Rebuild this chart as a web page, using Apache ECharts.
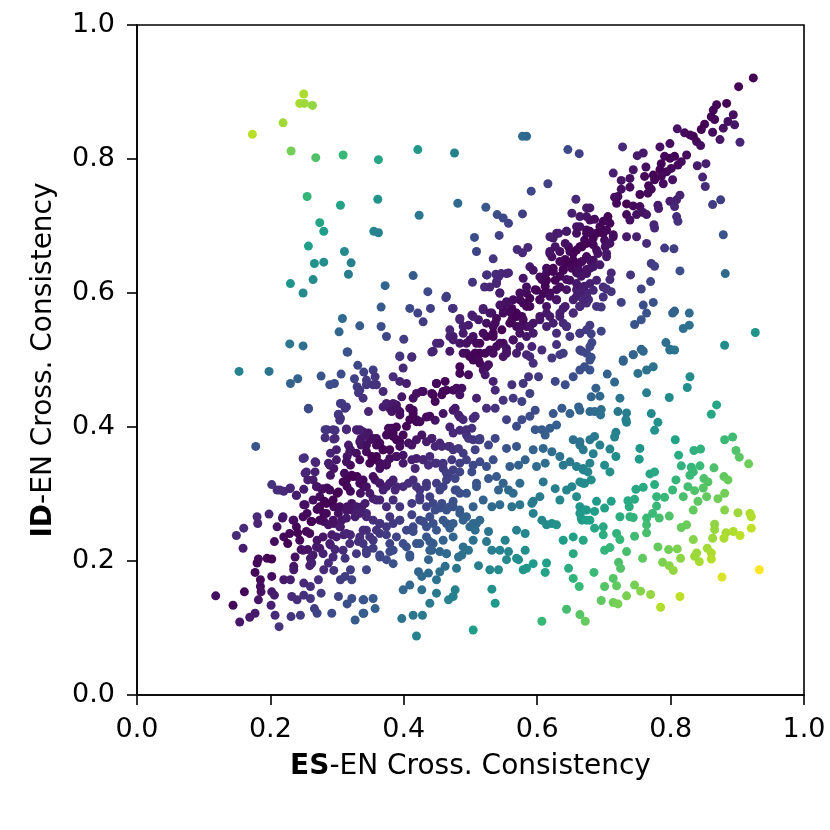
<!DOCTYPE html>
<html>
<head>
<meta charset="utf-8">
<script src="https://cdn.jsdelivr.net/npm/echarts@6/dist/echarts.min.js"></script>
<style>
  html, body { margin: 0; padding: 0; background: #fff; }
  #chart { width: 830px; height: 830px; }
</style>
</head>
<body>
<div id="chart"></div>
<script>
// [ES-EN, ID-EN] pairs
var upperLeft = [
  [.250,.897],[.244,.883],[.251,.883],[.263,.880],[.219,.854],[.173,.837],[.231,.812],[.268,.802],[.309,.806],
  [.255,.744],[.305,.731],[.274,.705],[.280,.692],[.257,.670],[.311,.662],[.266,.644],[.280,.646],[.321,.645],
  [.317,.628],[.230,.614],[.264,.620],[.249,.600],[.308,.562],[.334,.551],[.303,.542],[.229,.524],[.249,.521],[.315,.512]
];
var upperCenter = [
  [.578,.834],[.584,.834],[.646,.814],[.663,.808],[.362,.799],[.421,.814],[.476,.809],[.361,.740],[.423,.716],
  [.481,.734],[.355,.692],[.362,.690],[.591,.752],[.616,.763],[.523,.728],[.540,.717],[.549,.712],[.557,.704],
  [.578,.718],[.658,.740],[.506,.683],[.543,.686],[.509,.662],[.534,.651],[.570,.665],[.578,.660],[.586,.668],
  [.414,.626],[.372,.611],[.436,.602],[.366,.579],[.409,.577],[.421,.570],[.429,.557],[.440,.577],[.366,.550],
  [.374,.535],[.400,.531],[.394,.506],[.412,.505],[.463,.593],[.473,.577],[.503,.616],[.521,.609],[.525,.627],
  [.538,.628],[.546,.629],[.557,.630]
];
var centralBand = [
  [.652,.719],[.664,.714],[.674,.727],[.679,.709],[.659,.699],[.674,.689],[.644,.692],[.629,.689],[.624,.682],
  [.634,.662],[.647,.669],[.654,.659],[.664,.669],[.674,.654],[.664,.645],[.654,.640],[.642,.650],[.639,.635],
  [.624,.637],[.619,.659],[.634,.625],[.644,.620],[.659,.630],[.674,.630],[.679,.637],
  [.614,.630],[.607,.620],[.612,.610],[.619,.600],[.629,.605],[.644,.605],[.659,.605],[.674,.600],
  [.597,.605],[.584,.600],[.589,.592],[.604,.590],[.614,.580],[.629,.590],[.639,.577],[.654,.570],[.664,.580],
  [.677,.590],[.659,.595],
  [.539,.617],[.544,.600],[.554,.587],[.562,.577],[.569,.570],[.577,.565],[.584,.580],[.574,.590],[.564,.565],[.549,.577],
  [.519,.575],[.532,.570],[.539,.562],[.524,.555],[.534,.550],[.547,.545],[.559,.555],[.569,.550],[.584,.550],
  [.594,.555],[.604,.565],[.614,.570],
  [.624,.555],[.634,.565],[.644,.550],[.629,.540],[.649,.535],[.664,.540],[.674,.545],
  [.484,.562],[.502,.567],[.512,.560],[.497,.552],[.489,.540],[.474,.535],[.484,.525],[.499,.530],[.514,.525],
  [.507,.510],[.494,.510],[.524,.535],[.534,.535],[.539,.520],[.549,.525],[.564,.530],[.574,.520],[.592,.520],
  [.607,.515],[.629,.523],[.639,.510],[.664,.515],[.679,.520],
  [.522,.510],[.532,.513],[.554,.510],[.569,.510],[.584,.508],
  [.449,.525],[.444,.513],[.469,.513],[.469,.535],
  [.619,.684],[.632,.689],[.644,.692],[.659,.689],[.674,.694],[.627,.669],[.642,.674],[.649,.662],[.659,.664],
  [.667,.669],[.674,.674],[.684,.682],[.699,.689],[.714,.684],[.702,.669],[.689,.664],[.704,.654],[.684,.649],
  [.674,.654],[.667,.647],[.654,.649],[.644,.644],[.634,.647],[.622,.654],[.619,.662],[.614,.637],[.624,.632],
  [.639,.634],[.652,.637],[.662,.634],[.674,.629],[.684,.639],[.694,.642],[.604,.624],[.614,.619],[.627,.619],
  [.634,.609],[.649,.619],[.659,.614],[.669,.609],[.679,.614],[.689,.619],[.589,.639],[.594,.634],[.579,.622],
  [.584,.609],[.599,.604],[.609,.599],[.619,.595],[.629,.590],[.642,.580],[.654,.590],[.664,.595],[.674,.597],
  [.684,.604],[.699,.609],[.574,.600],[.564,.590],[.579,.585],[.589,.580],[.604,.590],[.554,.585],[.544,.600],
  [.539,.614],[.542,.624],[.524,.627],[.554,.629],[.529,.609],[.544,.582],[.559,.572],[.569,.565],[.579,.560],
  [.589,.550],[.574,.550],[.562,.560],[.549,.570],[.519,.577],[.529,.570],[.537,.555],[.534,.540],[.519,.540],
  [.504,.535],[.494,.525],[.509,.525],[.514,.510],[.529,.515],[.544,.525],[.554,.517],[.564,.530],[.574,.540],
  [.584,.535],[.594,.540],[.604,.560],[.614,.550],[.619,.565],[.634,.570],[.639,.555],[.644,.550],[.654,.570],
  [.664,.580],[.674,.585],[.484,.560],[.469,.545],[.474,.530],[.489,.550],[.504,.565],[.489,.510],[.484,.490],
  [.464,.595],[.474,.577],[.454,.525],[.524,.490],[.514,.495],[.504,.500]
];
var upperRight = [
  [.924,.921],[.902,.908],[.869,.881],[.884,.883],[.864,.873],[.861,.863],[.866,.859],[.894,.866],[.886,.856],
  [.896,.851],[.879,.846],[.863,.840],[.874,.829],[.904,.825],
  [.851,.852],[.846,.844],[.834,.834],[.839,.826],[.845,.820],[.829,.836],[.821,.839],[.810,.845],[.728,.818],
  [.784,.818],[.799,.823],[.791,.804],[.799,.801],[.806,.804],[.824,.806],[.816,.796],[.811,.791],[.801,.786],
  [.786,.793],[.784,.784],[.794,.781],[.750,.805],[.759,.809],[.763,.788],
  [.840,.790],[.853,.793],[.848,.773],[.852,.759],
  [.714,.779],[.744,.784],[.726,.768],[.739,.771],[.761,.774],[.774,.776],[.776,.769],[.786,.774],[.789,.763],[.803,.769],
  [.767,.760],[.771,.755],[.766,.749],[.754,.747],[.726,.755],[.721,.744],[.716,.743],[.739,.758],
  [.719,.734],[.734,.733],[.744,.730],[.754,.729],[.759,.720],[.749,.717],[.734,.717],[.739,.709],[.764,.717],
  [.781,.731],[.782,.726],[.799,.737],[.809,.739],[.814,.746],[.806,.729],[.811,.707],[.809,.714],
  [.863,.732],[.875,.739],
  [.679,.727],[.674,.714],[.686,.710],[.699,.707],[.709,.704],[.706,.714],[.694,.699],[.704,.694],[.714,.687],
  [.701,.679],[.709,.674],[.689,.689],[.679,.692],[.664,.699],[.671,.679],[.684,.672],[.691,.659],[.704,.659],
  [.679,.649],[.666,.669],
  [.734,.684],[.749,.684],[.764,.674],[.775,.702],[.776,.697],[.791,.667],[.805,.666],
  [.771,.644],[.776,.640],[.814,.633],[.740,.627],[.770,.617],[.756,.606],
  [.711,.630],[.709,.620],[.704,.606],[.711,.602],[.699,.594],[.726,.586],[.689,.580],[.696,.579],
  [.674,.635],[.666,.625],[.671,.610],[.664,.600],[.669,.590],[.664,.580],
  [.759,.582],[.774,.586],[.764,.570],[.756,.560],[.746,.553],
  [.803,.570],[.806,.573],[.828,.570],[.819,.547],[.828,.552],
  [.879,.687],[.882,.629],[.927,.541],[.881,.522],
  [.793,.526],[.799,.516],[.806,.515],[.756,.516],[.744,.508],[.729,.500],
  [.679,.552],[.681,.539],[.682,.526],[.696,.543],[.664,.540],[.674,.510],[.681,.504]
];
var lowerLeft = [
  [.153,.483],[.198,.483],[.230,.465],[.241,.472],[.276,.476],[.306,.479],[.296,.465],[.316,.512],[.331,.492],
  [.340,.482],[.326,.472],[.332,.451],[.330,.460],[.257,.427],[.305,.435],[.314,.430],[.302,.419],[.305,.413],
  [.178,.371],[.285,.396],[.297,.395],[.314,.397],[.282,.384],[.295,.382],[.330,.395],[.336,.383],[.336,.373],
  [.317,.373],[.320,.366],[.290,.361],[.299,.366],[.251,.354],[.268,.347],[.289,.343],[.295,.338],[.315,.356],
  [.320,.343],[.252,.331],[.256,.321],[.267,.333],[.290,.328],[.311,.331],[.322,.328],[.330,.326],[.309,.318],
  [.315,.311],[.320,.304],[.202,.314],[.210,.306],[.220,.304],[.230,.309],[.239,.298],[.250,.307],[.270,.311],
  [.277,.307],[.285,.309],[.274,.296],[.281,.289],[.300,.301],[.340,.311],[.335,.301],[.250,.284],[.255,.271],
  [.270,.277],[.280,.271],[.277,.261],[.295,.281],[.302,.271],[.307,.261],[.315,.281],[.322,.276],[.327,.266],
  [.337,.281],[.198,.270],[.180,.266],[.181,.256],[.218,.264],[.210,.251],[.235,.261],[.239,.251],[.241,.242],
  [.261,.259],[.254,.244],[.280,.259],[.287,.254],[.295,.256],[.305,.251],[.160,.249],[.149,.238],[.159,.219],
  [.206,.229],[.220,.236],[.226,.226],[.246,.217],[.256,.217],[.270,.231],[.274,.219],[.292,.239],[.290,.224],
  [.297,.217],[.310,.239],[.320,.239],[.332,.229],[.340,.246],[.182,.203],[.180,.197],[.195,.204],[.202,.203],
  [.237,.206],[.235,.192],[.260,.204],[.262,.197],[.259,.193],[.280,.187],[.287,.197],[.295,.186],[.312,.204],
  [.320,.187],[.305,.172],[.312,.177],[.322,.172],[.344,.187],[.177,.183],[.185,.172],[.202,.177],[.220,.172],
  [.230,.172],[.235,.187],[.250,.167],[.260,.162],[.272,.172],[.276,.152],[.118,.148],[.161,.154],[.144,.134],
  [.185,.162],[.186,.154],[.182,.142],[.202,.154],[.206,.149],[.201,.134],[.207,.119],[.232,.147],[.240,.142],
  [.250,.149],[.260,.144],[.302,.147],[.315,.136],[.322,.144],[.340,.142],[.266,.129],[.270,.122],[.292,.122],
  [.327,.112],[.340,.122],[.177,.122],[.169,.116],[.154,.109],[.213,.102],[.231,.117],[.245,.119]
];
var lowerBand = [
  [.289,.463],[.344,.463],[.359,.463],[.419,.450],[.429,.453],[.444,.448],[.459,.453],[.474,.455],[.487,.458],
  [.449,.465],[.257,.428],[.307,.435],[.312,.428],[.302,.418],[.304,.410],
  [.347,.423],[.369,.430],[.379,.428],[.389,.433],[.394,.423],[.409,.428],[.414,.420],[.419,.408],[.424,.408],
  [.434,.415],[.447,.410],[.459,.420],[.474,.425],[.484,.415],[.504,.413],[.469,.400],[.474,.391],[.484,.395],
  [.494,.388],[.504,.381],[.514,.383],
  [.282,.396],[.294,.396],[.297,.383],[.314,.396],[.329,.396],[.339,.393],[.347,.391],[.334,.378],[.349,.381],
  [.359,.383],[.364,.376],[.369,.366],[.374,.388],[.382,.398],[.389,.400],[.384,.386],[.394,.378],[.399,.388],
  [.407,.376],[.419,.381],[.434,.378],[.442,.383],[.447,.371],[.454,.376],[.467,.371],[.474,.366],
  [.249,.353],[.267,.348],[.287,.346],[.299,.351],[.314,.348],[.319,.363],[.329,.361],[.344,.363],[.352,.356],
  [.359,.351],[.364,.346],[.374,.343],[.379,.353],[.389,.356],[.399,.358],[.412,.351],[.417,.338],[.429,.351],
  [.437,.343],[.449,.346],[.459,.338],[.464,.331],[.474,.336],[.484,.346],[.494,.351],[.504,.343],[.502,.333],
  [.214,.306],[.229,.308],[.254,.333],[.264,.321],[.269,.311],[.279,.308],[.289,.306],[.302,.303],[.314,.321],
  [.324,.326],[.334,.316],[.344,.311],[.357,.321],[.364,.316],[.374,.311],[.384,.321],[.387,.306],[.399,.311],
  [.414,.321],[.424,.306],[.434,.311],[.449,.316],[.459,.311],[.464,.321],[.479,.306],[.494,.301],[.509,.311],
  [.239,.298],[.252,.284],[.264,.291],[.274,.281],[.284,.286],[.294,.291],[.304,.281],[.314,.276],[.322,.286],
  [.329,.281],[.342,.286],[.354,.293],[.364,.291],[.374,.281],[.384,.291],[.394,.281],[.412,.286],[.424,.291],
  [.434,.281],[.444,.286],[.454,.279],[.464,.276],[.474,.281],[.484,.271],[.504,.281],
  [.219,.266],[.234,.261],[.249,.266],[.262,.259],[.274,.261],[.284,.271],[.294,.261],[.304,.251],[.314,.264],
  [.329,.271],[.344,.271],[.354,.261],[.364,.256],[.374,.251],[.384,.256],[.394,.261],[.404,.246],[.414,.251],
  [.424,.261],[.434,.251],[.444,.256],[.459,.261],[.474,.256],[.489,.261],[.499,.251],[.509,.256],
  [.229,.241],[.244,.231],[.259,.241],[.269,.221],[.279,.236],[.289,.226],[.299,.236],[.314,.241],[.319,.226],
  [.334,.236],[.344,.246],[.354,.231],[.364,.241],[.379,.226],[.389,.236],[.404,.221],[.419,.226],[.434,.236],
  [.444,.226],[.459,.231],[.474,.236],[.489,.221],[.504,.231],
  [.249,.216],[.264,.209],[.279,.211],[.294,.206],[.309,.216],[.329,.211],[.344,.216],[.364,.209],[.384,.216],
  [.409,.209],[.439,.216],[.464,.211],[.487,.209]
];
var lowerCenter = [
  [.394,.505],[.412,.504],[.442,.512],[.499,.505],[.507,.510],[.512,.500],[.534,.510],[.549,.505],[.554,.512],
  [.589,.505],[.594,.495],[.622,.503],[.634,.508],[.667,.513],
  [.399,.488],[.384,.475],[.394,.468],[.404,.465],[.354,.485],[.344,.470],[.357,.475],[.354,.463],
  [.484,.480],[.497,.478],[.519,.485],[.527,.493],[.522,.478],[.534,.468],[.537,.455],[.562,.463],[.587,.475],
  [.602,.475],[.579,.465],[.627,.468],[.642,.463],[.654,.475],[.664,.485],[.679,.485],
  [.449,.465],[.462,.468],[.464,.455],[.479,.458],[.442,.450],[.457,.448],[.447,.438],[.484,.448],[.427,.453],
  [.414,.443],[.397,.445],[.369,.453],[.374,.435],[.382,.423],[.334,.455],[.339,.443],
  [.414,.425],[.419,.411],[.424,.408],[.439,.416],[.409,.411],[.384,.435],[.389,.428],[.394,.418],
  [.477,.428],[.482,.418],[.489,.411],[.509,.443],[.524,.428],[.507,.416],[.502,.398],[.512,.381],
  [.537,.428],[.549,.440],[.554,.411],[.564,.443],[.577,.438],
  [.569,.401],[.577,.411],[.589,.416],[.597,.396],[.607,.396],[.612,.388],[.619,.398],[.629,.403],
  [.589,.450],[.597,.425],[.624,.420],[.637,.428],[.649,.420],[.662,.430],[.679,.423],
  [.334,.396],[.344,.388],[.354,.383],[.359,.373],[.369,.366],[.344,.373],
  [.377,.398],[.384,.391],[.389,.381],[.379,.366],[.394,.371],
  [.404,.401],[.412,.373],[.427,.388],[.442,.383],[.457,.371],[.469,.371],[.482,.368],[.497,.383],[.494,.396],
  [.514,.381],[.527,.373],[.537,.383],
  [.554,.368],[.569,.371],[.594,.366],[.609,.368],[.622,.363],[.634,.356],[.654,.381],[.664,.373],[.679,.381],
  [.334,.351],[.349,.346],[.359,.356],[.364,.338],[.374,.346],[.389,.356],[.399,.346],[.419,.353],[.429,.351],
  [.439,.356],[.447,.346],[.459,.346],
  [.472,.351],[.489,.361],[.507,.366],[.514,.348],[.524,.341],[.534,.351],
  [.559,.341],[.572,.343],[.582,.351],[.599,.341],[.612,.346],
  [.639,.343],[.649,.348],[.659,.341],[.669,.336],[.679,.346],
  [.339,.321],[.354,.326],[.364,.316],[.369,.306],[.379,.316],[.349,.301],[.359,.291],
  [.389,.311],[.407,.316],[.419,.311],[.434,.316],[.424,.296],[.439,.296],[.454,.306],[.457,.286],
  [.467,.328],[.477,.323],[.484,.333],[.477,.306],[.474,.289],[.484,.301],
  [.509,.316],[.527,.323],[.539,.326],[.549,.316],[.542,.306],[.557,.306],[.564,.301],[.574,.316],
  [.609,.318],[.627,.308],[.644,.306],[.652,.311],[.669,.316],
  [.604,.296],[.592,.286],[.594,.271],[.607,.261],[.614,.254],[.622,.256],[.629,.254],[.639,.231],[.654,.236],
  [.664,.271],[.667,.261],[.674,.276],[.679,.261],
  [.334,.271],[.344,.266],[.339,.246],[.349,.236],[.359,.246],[.364,.256],[.374,.239],[.379,.266],
  [.339,.226],[.354,.219],[.344,.211],[.364,.206],[.374,.202],[.384,.196],[.379,.214],
  [.394,.261],[.412,.269],[.414,.244],[.429,.259],[.439,.266],[.449,.246],[.464,.256],[.469,.249],
  [.399,.226],[.409,.206],[.424,.226],[.439,.229],[.442,.216],[.437,.202],
  [.447,.276],[.469,.281],[.484,.276],[.494,.266],[.504,.256],[.507,.246],[.514,.261],
  [.519,.291],[.532,.281],[.544,.284],[.562,.281],[.574,.284],[.594,.289],
  [.527,.244],[.524,.229],[.532,.216],[.544,.216],[.552,.231],[.557,.214],[.569,.246],[.582,.241],[.572,.202],
  [.582,.216],[.584,.189],[.594,.196],[.554,.202],[.569,.204],[.579,.187],
  [.482,.206],[.497,.216],[.512,.193],[.529,.187],[.542,.187],
  [.454,.214],[.464,.211],[.462,.192],[.479,.189],
  [.422,.184],[.427,.177],[.437,.182],[.449,.172],[.454,.184],
  [.399,.157],[.409,.164],[.427,.157],[.449,.152],[.467,.142],[.477,.157],[.474,.147],[.439,.137],
  [.339,.142],[.354,.144],[.339,.122],[.357,.129],[.397,.114],[.414,.119],[.428,.119],[.419,.088],
  [.532,.158],[.537,.137],[.504,.097],[.607,.110],[.614,.197],[.612,.183],
  [.647,.189],[.654,.174],[.663,.162],[.654,.211],[.644,.128],[.664,.120],[.672,.110],
  [.659,.296],[.664,.281],[.634,.291]
];
var lowerRight = [
  [.679,.500],[.671,.490],[.729,.498],[.744,.508],[.759,.513],[.799,.515],[.751,.480],[.764,.485],[.774,.490],
  [.705,.479],[.716,.467],[.829,.475],[.825,.459],[.688,.458],[.681,.445],[.694,.446],[.724,.443],
  [.764,.451],[.798,.444],[.869,.433],[.861,.419],
  [.664,.425],[.686,.423],[.696,.426],[.695,.418],[.721,.423],[.734,.421],[.733,.411],[.734,.407],
  [.771,.420],[.781,.407],[.776,.395],[.718,.392],[.716,.385],[.686,.386],
  [.664,.378],[.669,.366],[.694,.373],[.709,.367],[.684,.360],[.718,.356],[.754,.368],[.753,.352],
  [.807,.381],[.812,.358],[.881,.381],[.893,.385],[.898,.365],[.903,.355],[.917,.345],[.835,.365],[.845,.367],
  [.816,.342],[.831,.340],[.844,.342],[.829,.328],[.834,.333],[.865,.339],
  [.701,.343],[.709,.333],[.669,.338],[.676,.333],[.681,.321],[.664,.318],[.671,.316],
  [.769,.330],[.776,.333],[.808,.321],[.850,.323],[.856,.318],[.880,.326],[.886,.321],
  [.748,.307],[.759,.310],[.776,.314],
  [.803,.306],[.819,.296],[.826,.311],[.836,.305],[.849,.309],[.854,.296],[.841,.289],[.834,.276],
  [.871,.293],[.881,.301],[.881,.276],[.901,.272],[.919,.271],[.921,.266],
  [.779,.296],[.791,.295],[.779,.282],[.773,.271],[.783,.264],[.798,.267],
  [.736,.290],[.746,.292],[.738,.281],[.739,.266],[.724,.266],[.764,.264],[.764,.254],[.764,.242],[.744,.265],
  [.711,.289],[.701,.279],[.689,.289],[.686,.274],[.671,.276],[.666,.264],[.674,.261],[.686,.249],[.699,.251],[.669,.231],
  [.699,.239],[.719,.241],[.724,.232],[.701,.216],[.709,.220],[.734,.214],[.746,.237],
  [.816,.250],[.824,.254],[.834,.232],[.866,.255],[.866,.247],[.863,.234],[.855,.219],[.861,.212],[.883,.242],
  [.894,.244],[.904,.238],[.880,.234],[.921,.249],
  [.781,.221],[.797,.217],[.810,.218],[.815,.204],[.839,.212],[.843,.199],[.836,.207],[.861,.203],
  [.758,.204],[.788,.198],[.798,.193],[.804,.186],
  [.722,.198],[.725,.189],[.685,.183],[.714,.174],[.701,.162],[.719,.163],[.746,.164],[.755,.155],[.770,.150],
  [.933,.187],[.877,.176],[.814,.147],[.785,.131],
  [.734,.148],[.714,.138],[.721,.136],[.696,.141]
];

var axisTicks = [0, 0.2, 0.4, 0.6, 0.8, 1.0];
var viridis = ['#440154','#482878','#3e4989','#31688e','#26828e','#1f9e89','#35b779','#6ece58','#b5de2b','#fde725'];

var allPairs = [].concat(upperLeft, upperCenter, centralBand, upperRight, lowerLeft, lowerBand, lowerCenter, lowerRight);
// third dimension: distance from the diagonal, drives the colour
var points = allPairs.map(function (p) {
  return [p[0], p[1], Math.abs(p[0] - p[1])];
});

var font = 'DejaVu Sans';
var myChart = echarts.init(document.getElementById('chart'));

var axisCommon = {
  type: 'value',
  min: axisTicks[0],
  max: axisTicks[axisTicks.length - 1],
  interval: 0.2,
  nameLocation: 'middle',
  axisLine: { show: true, lineStyle: { color: '#000', width: 1.6 } },
  axisTick: { show: true, inside: false, length: 10, lineStyle: { color: '#000', width: 1.6 } },
  splitLine: { show: false },
  axisLabel: {
    color: '#000',
    fontSize: 27,
    fontFamily: font,
    formatter: function (v) { return v.toFixed(1); }
  },
  nameTextStyle: {
    color: '#000',
    fontSize: 28,
    fontFamily: font,
    rich: {
      b: { fontWeight: 'bold', fontSize: 28, fontFamily: font, color: '#000' }
    }
  }
};

var option = {
  animation: false,
  backgroundColor: '#fff',
  grid: {
    left: 137, right: 26, top: 25, bottom: 135,
    show: true, borderColor: '#000', borderWidth: 1.6, backgroundColor: 'transparent'
  },
  xAxis: Object.assign({}, axisCommon, {
    name: '{b|ES}-EN Cross. Consistency',
    nameGap: 58,
    axisLabel: Object.assign({}, axisCommon.axisLabel, { margin: 21 })
  }),
  yAxis: Object.assign({}, axisCommon, {
    name: '{b|ID}-EN Cross. Consistency',
    nameGap: 79,
    axisLabel: Object.assign({}, axisCommon.axisLabel, { margin: 22 })
  }),
  visualMap: {
    show: false,
    type: 'continuous',
    dimension: 2,
    min: 0,
    max: 0.74,
    inRange: { color: viridis }
  },
  series: [{
    type: 'scatter',
    symbol: 'circle',
    symbolSize: 9,
    data: points,
    itemStyle: { opacity: 1 }
  }]
};

myChart.setOption(option);
</script>
</body>
</html>
